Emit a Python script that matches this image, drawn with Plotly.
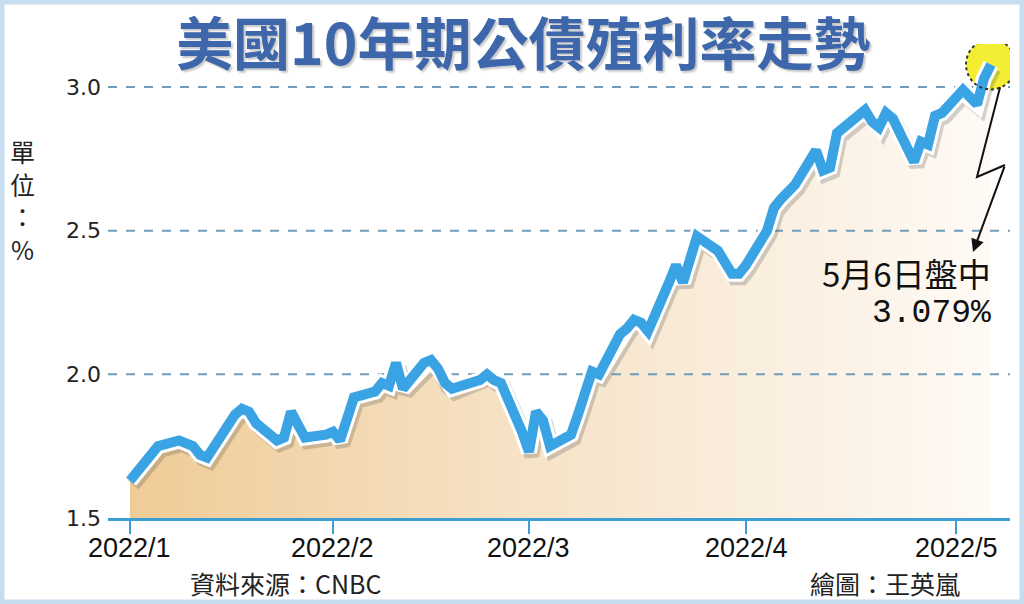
import pandas as pd
import plotly.graph_objects as go

# 美國10年期公債殖利率 (%), 2022/1/3 ~ 2022/5/6
dates = [
    "2022-01-03", "2022-01-04", "2022-01-05", "2022-01-06", "2022-01-07",
    "2022-01-10", "2022-01-11", "2022-01-12", "2022-01-13", "2022-01-14",
    "2022-01-18", "2022-01-19", "2022-01-20", "2022-01-21", "2022-01-24",
    "2022-01-25", "2022-01-26", "2022-01-27", "2022-01-28", "2022-01-31",
    "2022-02-01", "2022-02-02", "2022-02-03", "2022-02-04", "2022-02-07",
    "2022-02-08", "2022-02-09", "2022-02-10", "2022-02-11", "2022-02-14",
    "2022-02-15", "2022-02-16", "2022-02-17", "2022-02-18", "2022-02-22",
    "2022-02-23", "2022-02-24", "2022-02-25", "2022-02-28",
    "2022-03-01", "2022-03-02", "2022-03-03", "2022-03-04", "2022-03-07",
    "2022-03-08", "2022-03-09", "2022-03-10", "2022-03-11", "2022-03-14",
    "2022-03-15", "2022-03-16", "2022-03-17", "2022-03-18", "2022-03-21",
    "2022-03-22", "2022-03-23", "2022-03-24", "2022-03-25", "2022-03-28",
    "2022-03-29", "2022-03-30", "2022-03-31",
    "2022-04-01", "2022-04-04", "2022-04-05", "2022-04-06", "2022-04-07",
    "2022-04-08", "2022-04-11", "2022-04-12", "2022-04-13", "2022-04-14",
    "2022-04-18", "2022-04-19", "2022-04-20", "2022-04-21", "2022-04-22",
    "2022-04-25", "2022-04-26", "2022-04-27", "2022-04-28", "2022-04-29",
    "2022-05-02", "2022-05-03", "2022-05-04", "2022-05-05", "2022-05-06",
]
yields = [
    1.63, 1.66, 1.70, 1.72, 1.75,
    1.77, 1.76, 1.75, 1.72, 1.71,
    1.86, 1.88, 1.87, 1.83, 1.77,
    1.78, 1.87, 1.83, 1.78, 1.79,
    1.80, 1.77, 1.84, 1.92, 1.94,
    1.97, 1.96, 2.04, 1.95, 2.04,
    2.05, 2.02, 1.97, 1.95, 1.98,
    2.00, 1.98, 1.97, 1.80,
    1.73, 1.87, 1.84, 1.75, 1.79,
    1.86, 1.95, 2.01, 2.00, 2.14,
    2.16, 2.19, 2.18, 2.15, 2.32,
    2.38, 2.32, 2.40, 2.48, 2.43,
    2.39, 2.35, 2.35,
    2.38, 2.50, 2.58, 2.61, 2.64,
    2.66, 2.78, 2.71, 2.72, 2.84,
    2.92, 2.88, 2.86, 2.91, 2.89,
    2.74, 2.81, 2.80, 2.90, 2.91,
    2.99, 2.96, 2.94, 3.03, 3.079,
]

x_tickvals = ["2022-01-03", "2022-02-01", "2022-03-01", "2022-04-01", "2022-05-01"]
x_ticktext = ["2022/1", "2022/2", "2022/3", "2022/4", "2022/5"]
y_tickvals = [1.5, 2.0, 2.5, 3.0]
y_ticktext = ["1.5", "2.0", "2.5", "3.0"]

x_range = [pd.Timestamp("2021-12-30 20:36"), pd.Timestamp("2022-05-08 17:09")]
y_range = [1.5, 3.15]

BLUE = "#3aa3e4"
GRID = "#6f9db9"
AXIS = "#3b9fd6"

# shadow axes are shifted a few pixels (about 10 hours / 0.014 %)
shift_x = pd.Timedelta(hours=10)
shift_y = 0.014

fig = go.Figure()

# area under the curve
fig.add_trace(go.Scatter(
    x=dates, y=yields, mode="lines", line=dict(width=0),
    fill="tozeroy",
    fillgradient=dict(type="horizontal",
                      colorscale=[[0, "#efcc97"], [0.45, "#f6e2c6"], [1, "#fefaf5"]]),
    hoverinfo="skip", showlegend=False,
))

# dashed grid lines drawn over the area
gx, gy = [], []
for v in y_tickvals[1:]:
    gx += [x_range[0], x_range[1], None]
    gy += [v, v, None]
fig.add_trace(go.Scatter(
    x=gx, y=gy, mode="lines",
    line=dict(color=GRID, width=2, dash="dash"),
    hoverinfo="skip", showlegend=False,
))

# yellow highlight on the latest value
fig.add_trace(go.Scatter(
    x=dates[-1:], y=yields[-1:], mode="markers",
    marker=dict(size=50, color="#f3ee33", line=dict(width=0)),
    hoverinfo="skip", showlegend=False,
))

# soft shadow under the line
fig.add_trace(go.Scatter(
    x=dates, y=yields, mode="lines", xaxis="x2", yaxis="y2",
    line=dict(color="rgba(60,60,60,0.22)", width=15),
    hoverinfo="skip", showlegend=False,
))

# white halo + blue line
fig.add_trace(go.Scatter(
    x=dates, y=yields, mode="lines", xaxis="x3", yaxis="y3",
    line=dict(color="white", width=16),
    hoverinfo="skip", showlegend=False,
))
fig.add_trace(go.Scatter(
    x=dates, y=yields, mode="lines", xaxis="x3", yaxis="y3",
    line=dict(color=BLUE, width=10),
    showlegend=False,
))

fig.update_layout(
    width=1024, height=604,
    margin=dict(l=108, r=14, t=44, b=86),
    paper_bgcolor="white", plot_bgcolor="rgba(0,0,0,0)",
    font=dict(family="Noto Sans CJK TC", color="#222"),
    title=dict(
        text="美國10年期公債殖利率走勢",
        x=0.511, xref="container", xanchor="center",
        y=0.925, yref="container", yanchor="middle",
        font=dict(family="Noto Sans CJK TC", size=57, color="#3d67aa",
                  weight=700, shadow="2px 2px 2px rgba(0,0,0,0.22)"),
    ),
    xaxis=dict(
        type="date", range=x_range, showgrid=False, zeroline=False,
        showline=True, linecolor=AXIS, linewidth=3,
        tickvals=x_tickvals, ticktext=[""] * len(x_tickvals),
        ticks="outside", ticklen=13, tickwidth=2, tickcolor=AXIS,
    ),
    yaxis=dict(
        range=y_range, showgrid=False, zeroline=False, showline=False,
        tickvals=y_tickvals, ticktext=y_ticktext, ticks="",
        ticklabelstandoff=6,
        tickfont=dict(family="DejaVu Sans", size=22, color="#222"),
    ),
    xaxis2=dict(type="date", overlaying="x", visible=False,
                range=[x_range[0] - shift_x, x_range[1] - shift_x]),
    yaxis2=dict(overlaying="y", visible=False,
                range=[y_range[0] + shift_y, y_range[1] + shift_y]),
    xaxis3=dict(type="date", overlaying="x", visible=False, range=x_range),
    yaxis3=dict(overlaying="y", visible=False, range=y_range),
)

# month labels sit right under the tick marks
for tv, tt in zip(x_tickvals, x_ticktext):
    fig.add_annotation(xref="x", yref="paper", x=tv, y=0, yshift=-30,
                       xanchor="center", yanchor="middle", showarrow=False,
                       text=tt, font=dict(family="Liberation Sans", size=27, color="#111"))

# dotted ring around the highlight
fig.add_shape(type="circle", xref="x", yref="y", layer="above",
              xsizemode="pixel", ysizemode="pixel",
              xanchor=dates[-1], yanchor=yields[-1],
              x0=-25, x1=25, y0=-25, y1=25,
              line=dict(color="#333", width=2, dash="dot"))

# zigzag pointer
fig.add_shape(type="path", xref="paper", yref="paper", layer="above",
              path="M 0.989 0.909 L 0.9634 0.7194 L 0.9945 0.7447",
              line=dict(color="#111", width=2))
fig.add_annotation(xref="paper", yref="paper", x=0.959, y=0.561,
                   ax=32, ay=-87, text="", showarrow=True,
                   arrowhead=2, arrowsize=1.3, arrowwidth=2, arrowcolor="#111")

fig.add_annotation(xref="paper", yref="paper", x=0.981, y=0.517,
                   xanchor="right", yanchor="middle", showarrow=False,
                   text="5月6日盤中", font=dict(size=33, color="#111"))
fig.add_annotation(xref="paper", yref="paper", x=0.981, y=0.432,
                   xanchor="right", yanchor="middle", showarrow=False,
                   text="3.079%", font=dict(family="Liberation Mono", size=33, color="#111"))

# unit label, stacked vertically
fig.add_annotation(xref="paper", yref="paper", x=-0.095, y=0.671,
                   xanchor="center", yanchor="middle", showarrow=False, align="center",
                   text="單<br>位<br>：<br>%", font=dict(size=25, color="#222"))

fig.add_annotation(xref="paper", yref="paper", x=0.197, y=-0.137,
                   xanchor="center", yanchor="middle", showarrow=False,
                   text="資料來源：CNBC", font=dict(size=25, color="#222"))
fig.add_annotation(xref="paper", yref="paper", x=0.861, y=-0.137,
                   xanchor="center", yanchor="middle", showarrow=False,
                   text="繪圖：王英嵐", font=dict(size=25, color="#222"))

# light blue frame around the whole graphic
fig.add_shape(type="rect", xref="paper", yref="paper", layer="above",
              x0=-0.1175, x1=1.0133, y0=-0.177, y1=1.0886,
              line=dict(color="#c6dcef", width=5))

fig.write_html("out.html", config={"displayModeBar": False},
               post_script="document.body.style.margin='0';document.body.style.overflow='hidden';")
